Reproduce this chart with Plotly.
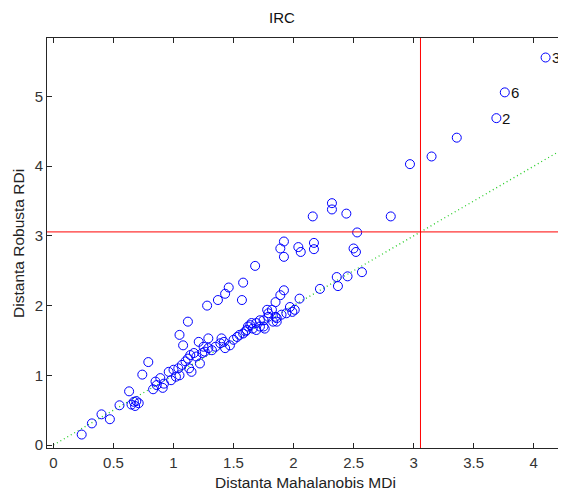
import plotly.graph_objects as go

# Mahalanobis distances (x) and robust distances (y)
MD = [0.235, 0.32, 0.40, 0.47, 0.55, 0.63, 0.65, 0.67, 0.69, 0.71, 0.68, 0.74, 0.79,
      0.83, 0.85, 0.86, 0.89, 0.91, 0.92,
      0.96, 0.98, 1.00, 1.02, 1.04, 1.05, 1.05, 1.07, 1.08, 1.10, 1.12, 1.12, 1.13, 1.14,
      1.15, 1.17, 1.19, 1.21, 1.22, 1.24, 1.25, 1.26, 1.28, 1.29, 1.29, 1.32, 1.35, 1.37,
      1.39, 1.40, 1.42, 1.43, 1.43, 1.46, 1.47, 1.50, 1.53, 1.55, 1.57, 1.58, 1.58, 1.60,
      1.61, 1.62, 1.64, 1.65, 1.66, 1.68, 1.69, 1.69, 1.72, 1.72, 1.75, 1.75, 1.76, 1.78,
      1.79, 1.79, 1.82, 1.83, 1.85, 1.85, 1.86, 1.86, 1.89, 1.89, 1.90, 1.92, 1.92, 1.92,
      1.94, 1.97, 1.99, 2.01, 2.04, 2.05, 2.06, 2.16, 2.17, 2.17, 2.22, 2.32, 2.32, 2.36,
      2.37, 2.44, 2.45, 2.50, 2.52, 2.53, 2.57, 2.81, 2.97, 3.15, 3.36, 3.69, 3.76, 4.10]
RD = [0.15, 0.31, 0.44, 0.37, 0.57, 0.77, 0.58, 0.62, 0.63, 0.60, 0.56, 1.01, 1.19,
      0.80, 0.91, 0.86, 0.96, 0.82, 0.88,
      1.05, 0.93, 1.08, 0.98, 1.10, 1.00, 1.58, 1.15, 1.43, 1.20, 1.77, 1.24, 1.10, 1.29,
      1.05, 1.32, 1.27, 1.48, 1.17, 1.32, 1.41, 1.34, 2.00, 1.53, 1.39, 1.36, 1.41, 2.08,
      1.46, 1.53, 1.48, 2.17, 1.39, 2.26, 1.43, 1.51, 1.55, 1.58, 2.08, 2.33, 1.60, 1.63,
      1.65, 1.70, 1.72, 1.75, 1.67, 2.57, 1.65, 1.75, 1.70, 1.79, 1.79, 1.70, 1.67, 1.94,
      1.89, 1.84, 1.94, 1.77, 1.84, 2.05, 1.77, 1.82, 2.15, 2.82, 1.87, 2.22, 2.92, 2.70,
      1.89, 1.98, 1.91, 1.94, 2.84, 2.10, 2.77, 3.28, 2.90, 2.81, 2.24, 3.47, 3.38, 2.41,
      2.28, 3.32, 2.42, 2.82, 2.77, 3.05, 2.48, 3.28, 4.03, 4.14, 4.41, 4.69, 5.06, 5.56]

# labelled outliers
LABEL_MD = [4.10, 3.76, 3.69]
LABEL_RD = [5.56, 5.06, 4.69]
LABEL_TEXT = ["3", "6", "2"]

CUTOFF = 3.0575          # sqrt(chi2inv(0.975, 3))
DIAG = [0.0, 4.3]        # y = x reference line

XTICKS = [0, 0.5, 1, 1.5, 2, 2.5, 3, 3.5, 4]
XTICK_TEXT = ["0", "0.5", "1", "1.5", "2", "2.5", "3", "3.5", "4"]
YTICKS = [0, 1, 2, 3, 4, 5]
YTICK_TEXT = ["0", "1", "2", "3", "4", "5"]

FONT = "Liberation Sans, Arial, sans-serif"
AXC = "#262626"

fig = go.Figure()
fig.add_trace(go.Scatter(x=DIAG, y=DIAG, mode="lines",
                         line=dict(color="#22cc22", width=1.3, dash="1px,3px"),
                         hoverinfo="skip", showlegend=False))
fig.add_trace(go.Scatter(x=MD, y=RD, mode="markers",
                         marker=dict(symbol="circle-open", size=9, color="#0000ff",
                                     line=dict(width=1, color="#0000ff")),
                         showlegend=False))

for xv, yv, t in zip(LABEL_MD, LABEL_RD, LABEL_TEXT):
    fig.add_annotation(x=xv, y=yv, text=t, showarrow=False, xanchor="left",
                       yanchor="middle", xshift=4,
                       font=dict(family=FONT, size=15, color="#111"))

fig.add_shape(type="line", xref="paper", yref="y", x0=0, x1=1, y0=CUTOFF, y1=CUTOFF,
              line=dict(color="#ff0000", width=1))
fig.add_shape(type="line", xref="x", yref="paper", x0=CUTOFF, x1=CUTOFF, y0=0, y1=1,
              line=dict(color="#ff0000", width=1))

fig.add_annotation(text="IRC", xref="paper", yref="paper", x=0.453, y=1.049,
                   xanchor="center", yanchor="middle", showarrow=False,
                   font=dict(family=FONT, size=15, color="#111"))
fig.add_annotation(text="Distanta Mahalanobis MDi", xref="paper", yref="paper",
                   x=0.499, y=-0.083, xanchor="center", yanchor="middle",
                   showarrow=False, font=dict(family=FONT, size=15.5, color="#222"))
fig.add_annotation(text="Distanta Robusta RDi", xref="paper", yref="paper",
                   x=-0.056, y=0.5, xanchor="center", yanchor="middle",
                   textangle=-90, showarrow=False,
                   font=dict(family=FONT, size=15.5, color="#222"))

# page body has an 8px margin: shift the plot area up/left by that amount
fig.update_layout(
    width=566, height=490,
    margin=dict(l=39, r=8, t=30, b=50),
    paper_bgcolor="white", plot_bgcolor="white",
    font=dict(family=FONT, size=15, color="#333"),
    xaxis=dict(range=[-0.054, 4.27], tickvals=XTICKS, ticktext=XTICK_TEXT,
               ticks="inside", ticklen=5, tickcolor=AXC, showline=True,
               linecolor=AXC, linewidth=1, mirror="ticks", showgrid=False,
               zeroline=False, ticklabelstandoff=1,
               tickfont=dict(size=15, color="#333")),
    yaxis=dict(range=[-0.043, 5.84], tickvals=YTICKS, ticktext=YTICK_TEXT,
               ticks="inside", ticklen=5, tickcolor=AXC, showline=True,
               linecolor=AXC, linewidth=1, mirror="ticks", showgrid=False,
               zeroline=False, tickfont=dict(size=15, color="#333")),
)

fig.write_html("out.html")
